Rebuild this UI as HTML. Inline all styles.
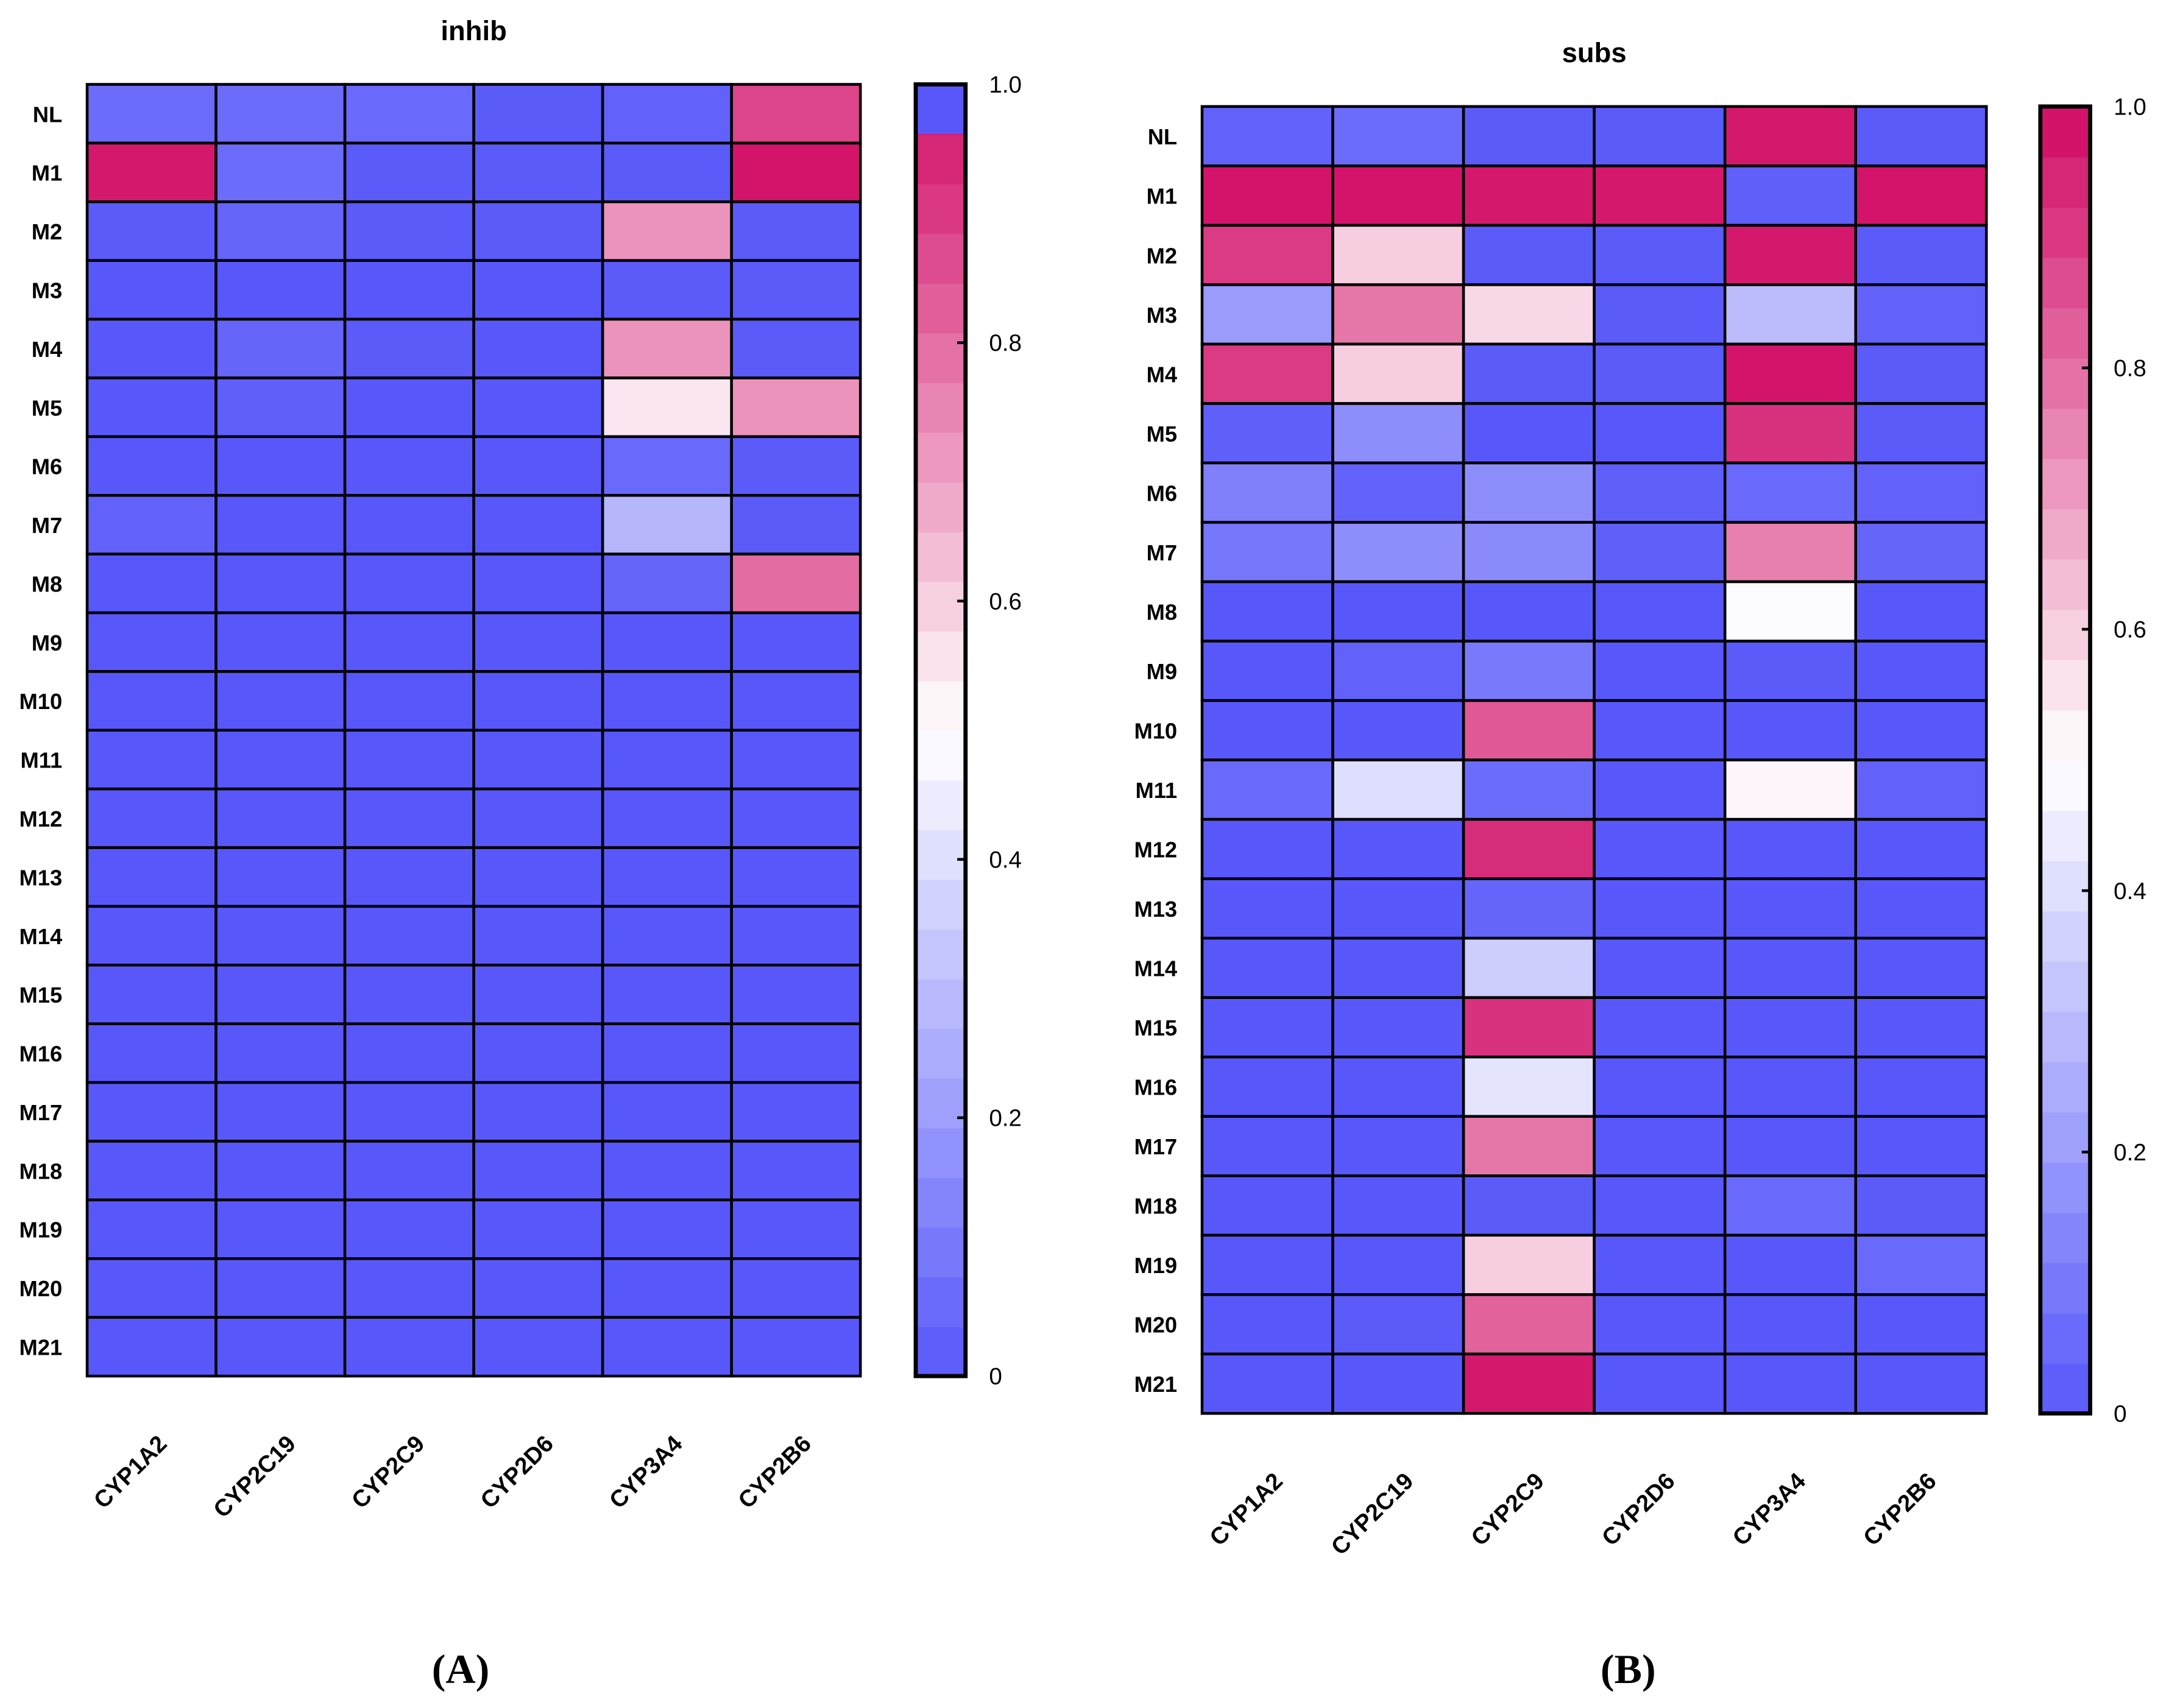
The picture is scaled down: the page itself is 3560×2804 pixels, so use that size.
<!DOCTYPE html>
<html><head><meta charset="utf-8"><style>
html,body{margin:0;padding:0;background:#fff;}
svg{display:block;font-family:"Liberation Sans",sans-serif;}
</style></head><body>
<svg id="svg" width="3560" height="2804" viewBox="0 0 1568 1235" xmlns="http://www.w3.org/2000/svg"></svg>
<script>
const rowLabels=["NL","M1","M2","M3","M4","M5","M6","M7","M8","M9","M10","M11","M12","M13","M14","M15","M16","M17","M18","M19","M20","M21"];
const colLabels=["CYP1A2","CYP2C19","CYP2C9","CYP2D6","CYP3A4","CYP2B6"];
const inhibValues=[
[0.06,0.06,0.05,0.01,0.03,0.88],
[0.97,0.06,0.01,0.01,0.01,0.98],
[0.01,0.04,0.01,0.01,0.72,0.01],
[0,0,0,0,0.01,0.01],
[0,0.04,0.01,0,0.72,0.01],
[0,0.02,0,0,0.55,0.72],
[0,0,0,0,0.05,0.01],
[0.03,0,0,0,0.28,0.01],
[0,0,0,0,0.04,0.80],
[0,0,0,0,0,0],[0,0,0,0,0,0],[0,0,0,0,0,0],[0,0,0,0,0,0],[0,0,0,0,0,0],
[0,0,0,0,0,0],[0,0,0,0,0,0],[0,0,0,0,0,0],[0,0,0,0,0,0],[0,0,0,0,0,0],
[0,0,0,0,0,0],[0,0,0,0,0,0],[0,0,0,0,0,0]];
const subsValues=[
[0.03,0.06,0.01,0.01,0.97,0.01],
[0.98,0.98,0.97,0.97,0.02,0.98],
[0.90,0.60,0.01,0.01,0.97,0.01],
[0.20,0.78,0.58,0.01,0.30,0.03],
[0.90,0.60,0.01,0.01,0.98,0.01],
[0.02,0.16,0,0,0.92,0.01],
[0.12,0.03,0.16,0.02,0.05,0.03],
[0.09,0.16,0.15,0.02,0.76,0.04],
[0,0,0,0,0.49,0],
[0,0.03,0.10,0,0.01,0],
[0,0,0.84,0,0,0],
[0.05,0.40,0.06,0,0.52,0.03],
[0,0,0.93,0,0,0],
[0,0,0.04,0,0,0],
[0,0,0.35,0,0,0],
[0,0,0.92,0,0,0],
[0,0,0.42,0,0,0],
[0,0,0.78,0,0,0],
[0,0,0.01,0,0.05,0.01],
[0,0,0.60,0,0,0.05],
[0,0.01,0.82,0,0,0],
[0,0,0.97,0,0,0]];
const cbTicks=[0,0.2,0.4,0.6,0.8,1.0];
const cbTickLabels=["0","0.2","0.4","0.6","0.8","1.0"];

const NS="http://www.w3.org/2000/svg";
const svg=document.getElementById('svg');
function el(t,a,p){const e=document.createElementNS(NS,t);for(const k in a)e.setAttribute(k,a[k]);(p||svg).appendChild(e);return e;}
function color(v){
  v=Math.max(0,Math.min(1,v));
  const B=[88,88,250],W=[255,255,255],R=[209,10,100];
  let a,b,t;
  if(v<0.5){a=B;b=W;t=v/0.5;}else{a=W;b=R;t=(v-0.5)/0.5;}
  return `rgb(${a.map((c,i)=>Math.round(c+(b[i]-c)*t)).join(',')})`;
}
function panel(p){
  const g=el('g',{});
  
  
  const t=el('text',{x:(p.x0+p.x1)/2,y:p.ty,'text-anchor':'middle','font-size':20,'font-weight':'bold'},g);
  t.textContent=p.title;
  
  
  const nr=rowLabels.length,nc=colLabels.length;
  const cw=(p.x1-p.x0)/nc,rh=(p.y1-p.y0)/nr;
  const xs=i=>p.x0+i*cw, ys=j=>p.y0+j*rh;
  for(let j=0;j<nr;j++)for(let i=0;i<nc;i++){
    const r=el('rect',{x:xs(i),y:ys(j),width:cw,height:rh,fill:color(p.data[j][i]),stroke:'#000','stroke-width':2},g);
    
    
  }
  rowLabels.forEach((l,j)=>{
    const tx=el('text',{x:p.x0-18,y:ys(j)+rh/2+6,'text-anchor':'end','font-size':16,'font-weight':'bold'},g);
    tx.textContent=l;
    
    
  });
  colLabels.forEach((l,i)=>{
    const cx=xs(i)+cw/2+12, cy=p.y1+50;
    const tx=el('text',{x:cx,y:cy,'text-anchor':'end','font-size':17,'font-weight':'bold',transform:`rotate(-45 ${cx} ${cy})`},g);
    tx.textContent=l;
    
    
  });
  const cb=el('g',{},g);
  
  
  const n=26, bh=(p.y1-p.y0)/n;
  const cy=v=>p.y1-v*(p.y1-p.y0);
  for(let k=0;k<n;k++){
    const v=(k+0.5)/n;
    el('rect',{x:p.cbx,y:p.y1-(k+1)*bh,width:36,height:bh+0.5,fill:color(v)},cb);
  }
  if(p.topBlue) el('rect',{x:p.cbx,y:p.y0,width:36,height:bh,fill:color(0)},cb);
  el('rect',{x:p.cbx,y:p.y0,width:36,height:p.y1-p.y0,fill:'none',stroke:'#000','stroke-width':3},cb);
  cbTicks.forEach((v,k)=>{
    el('line',{x1:p.cbx+30,x2:p.cbx+36,y1:cy(v),y2:cy(v),stroke:'#000','stroke-width':2},cb);
    const tx=el('text',{x:p.cbx+53,y:cy(v)+6,'font-size':17},cb);
    tx.textContent=cbTickLabels[k];
    
    
  });
  const lab=el('text',{x:p.lx,y:1217,'text-anchor':'middle','font-size':30,'font-weight':'bold','font-family':'"Liberation Serif",serif'},g);
  lab.textContent=p.letter;
  
  
}
panel({name:'inhib',title:'inhib',data:inhibValues,x0:63,x1:622,y0:61,y1:995,ty:29,cbx:662,letter:'(A)',lx:333,topBlue:true});
panel({name:'subs',title:'subs',data:subsValues,x0:869,x1:1436,y0:77,y1:1022,ty:45,cbx:1475,letter:'(B)',lx:1177,topBlue:false});
</script>
</body></html>
